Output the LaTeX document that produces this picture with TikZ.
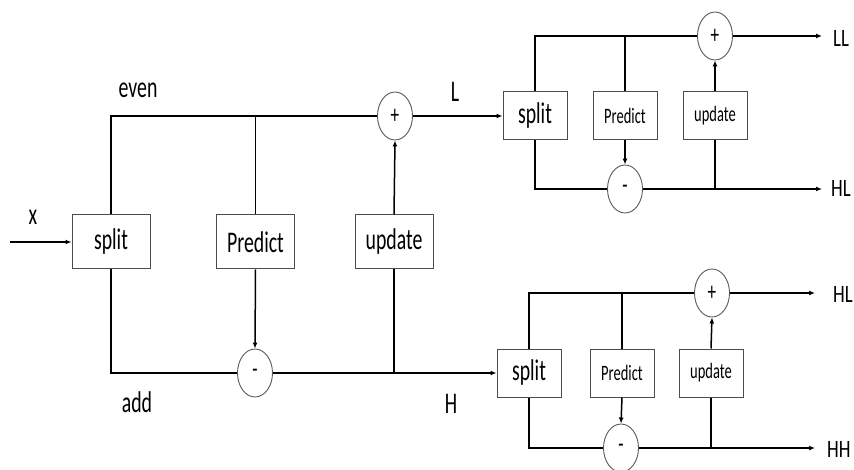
\documentclass[tikz,border=0pt]{standalone}
\usepackage{fontspec}
\usetikzlibrary{arrows.meta,shapes.geometric}
\newfontfamily\bigf[FakeStretch=0.66]{Carlito}
\newfontfamily\labf[FakeStretch=0.75]{Carlito}
\begin{document}
\begin{tikzpicture}[x=1pt,y=-1pt,
  box/.style={draw=black!70, line width=1pt, minimum width=64pt, minimum height=48pt, inner sep=0pt, font=\bigf\fontsize{30}{30}\selectfont},
  bigbox/.style={box, minimum width=78pt, minimum height=54pt},
  sbox/.style={box, font=\bigf\fontsize{22}{22}\selectfont},
  op/.style={ellipse, draw=black!65, line width=0.9pt, minimum width=35pt, minimum height=48pt, inner sep=0pt, font=\bigf\fontsize{26}{26}\selectfont},
  wire/.style={line width=1.5pt, black},
  arr/.style={wire, -{Latex[length=6pt,width=5pt]}},
  lab/.style={anchor=base, inner sep=0pt, font=\bigf\fontsize{30}{30}\selectfont},
  olab/.style={anchor=base west, inner sep=0pt, font=\labf\fontsize{25}{25}\selectfont}]
\useasboundingbox (0,0) rectangle (854,470);
% first stage
\node[bigbox] (s1) at (111,242) {split};
\node[bigbox] (p1) at (255.5,242) {Predict};
\node[bigbox] (u1) at (394,242) {update};
\node[op] (m1) at (255,373) {-};
\node[op] (a1) at (395,116) {+};
% top-right stage
\node[box] (s2) at (535,116) {split};
\node[sbox] (p2) at (625,116) {Predict};
\node[sbox] (u2) at (715,116) {update};
\node[op] (a2) at (715,36) {+};
\node[op] (m2) at (625,189) {-};
% bottom-right stage
\node[box] (s3) at (529,373) {split};
\node[sbox] (p3) at (622,373) {Predict};
\node[sbox] (u3) at (711,373) {update};
\node[op] (a3) at (712,293) {+};
\node[op] (m3) at (621,448) {-};
% free ends
\coordinate (in) at (10,242);
\coordinate (oLL) at (822,36);
\coordinate (oHL1) at (822,189);
\coordinate (oHL2) at (815,293);
\coordinate (oHH) at (815,448);
% labels
\node[lab] (tx) at (33,225) {x};
\node[lab] (teven) at (138,98) {even};
\node[lab] (tadd) at (137,412) {add};
\node[lab] (tL) at (455,102) {L};
\node[lab] (tH) at (451,413) {H};
\node[olab] (tLL) at (833,47) {LL};
\node[olab] (tHL1) at (831,197) {HL};
\node[olab] (tHL2) at (833,303) {HL};
\node[olab] (tHH) at (827,457) {HH};
% wiring stage 1
\draw[arr] (in) -- (s1.west);
\draw[wire] (s1.north) |- (a1.west);
\draw[wire] (p1.north) -- (p1.north |- a1.west);
\draw[arr] (p1.south) -- (m1.north);
\draw[wire] (s1.south) |- (m1.west);
\draw[arr] (m1.east) -- (s3.west);
\draw[wire] (u1.south) -- (u1.south |- m1.east);
\draw[arr] (u1.north) -- (a1.south);
\draw[arr] (a1.east) -- (s2.west);
% wiring stage 2
\draw[wire] (s2.north) |- (a2.west);
\draw[wire] (p2.north) -- (p2.north |- a2.west);
\draw[arr] (p2.south) -- (m2.north);
\draw[wire] (s2.south) |- (m2.west);
\draw[arr] (m2.east) -- (oHL1);
\draw[wire] (u2.south) -- (u2.south |- m2.east);
\draw[arr] (u2.north) -- (a2.south);
\draw[arr] (a2.east) -- (oLL);
% wiring stage 3
\draw[wire] (s3.north) |- (a3.west);
\draw[wire] (p3.north) -- (p3.north |- a3.west);
\draw[arr] (p3.south) -- (m3.north);
\draw[wire] (s3.south) |- (m3.west);
\draw[arr] (m3.east) -- (oHH);
\draw[wire] (u3.south) -- (u3.south |- m3.east);
\draw[arr] (u3.north) -- (a3.south);
\draw[arr] (a3.east) -- (oHL2);
\end{tikzpicture}
\end{document}
